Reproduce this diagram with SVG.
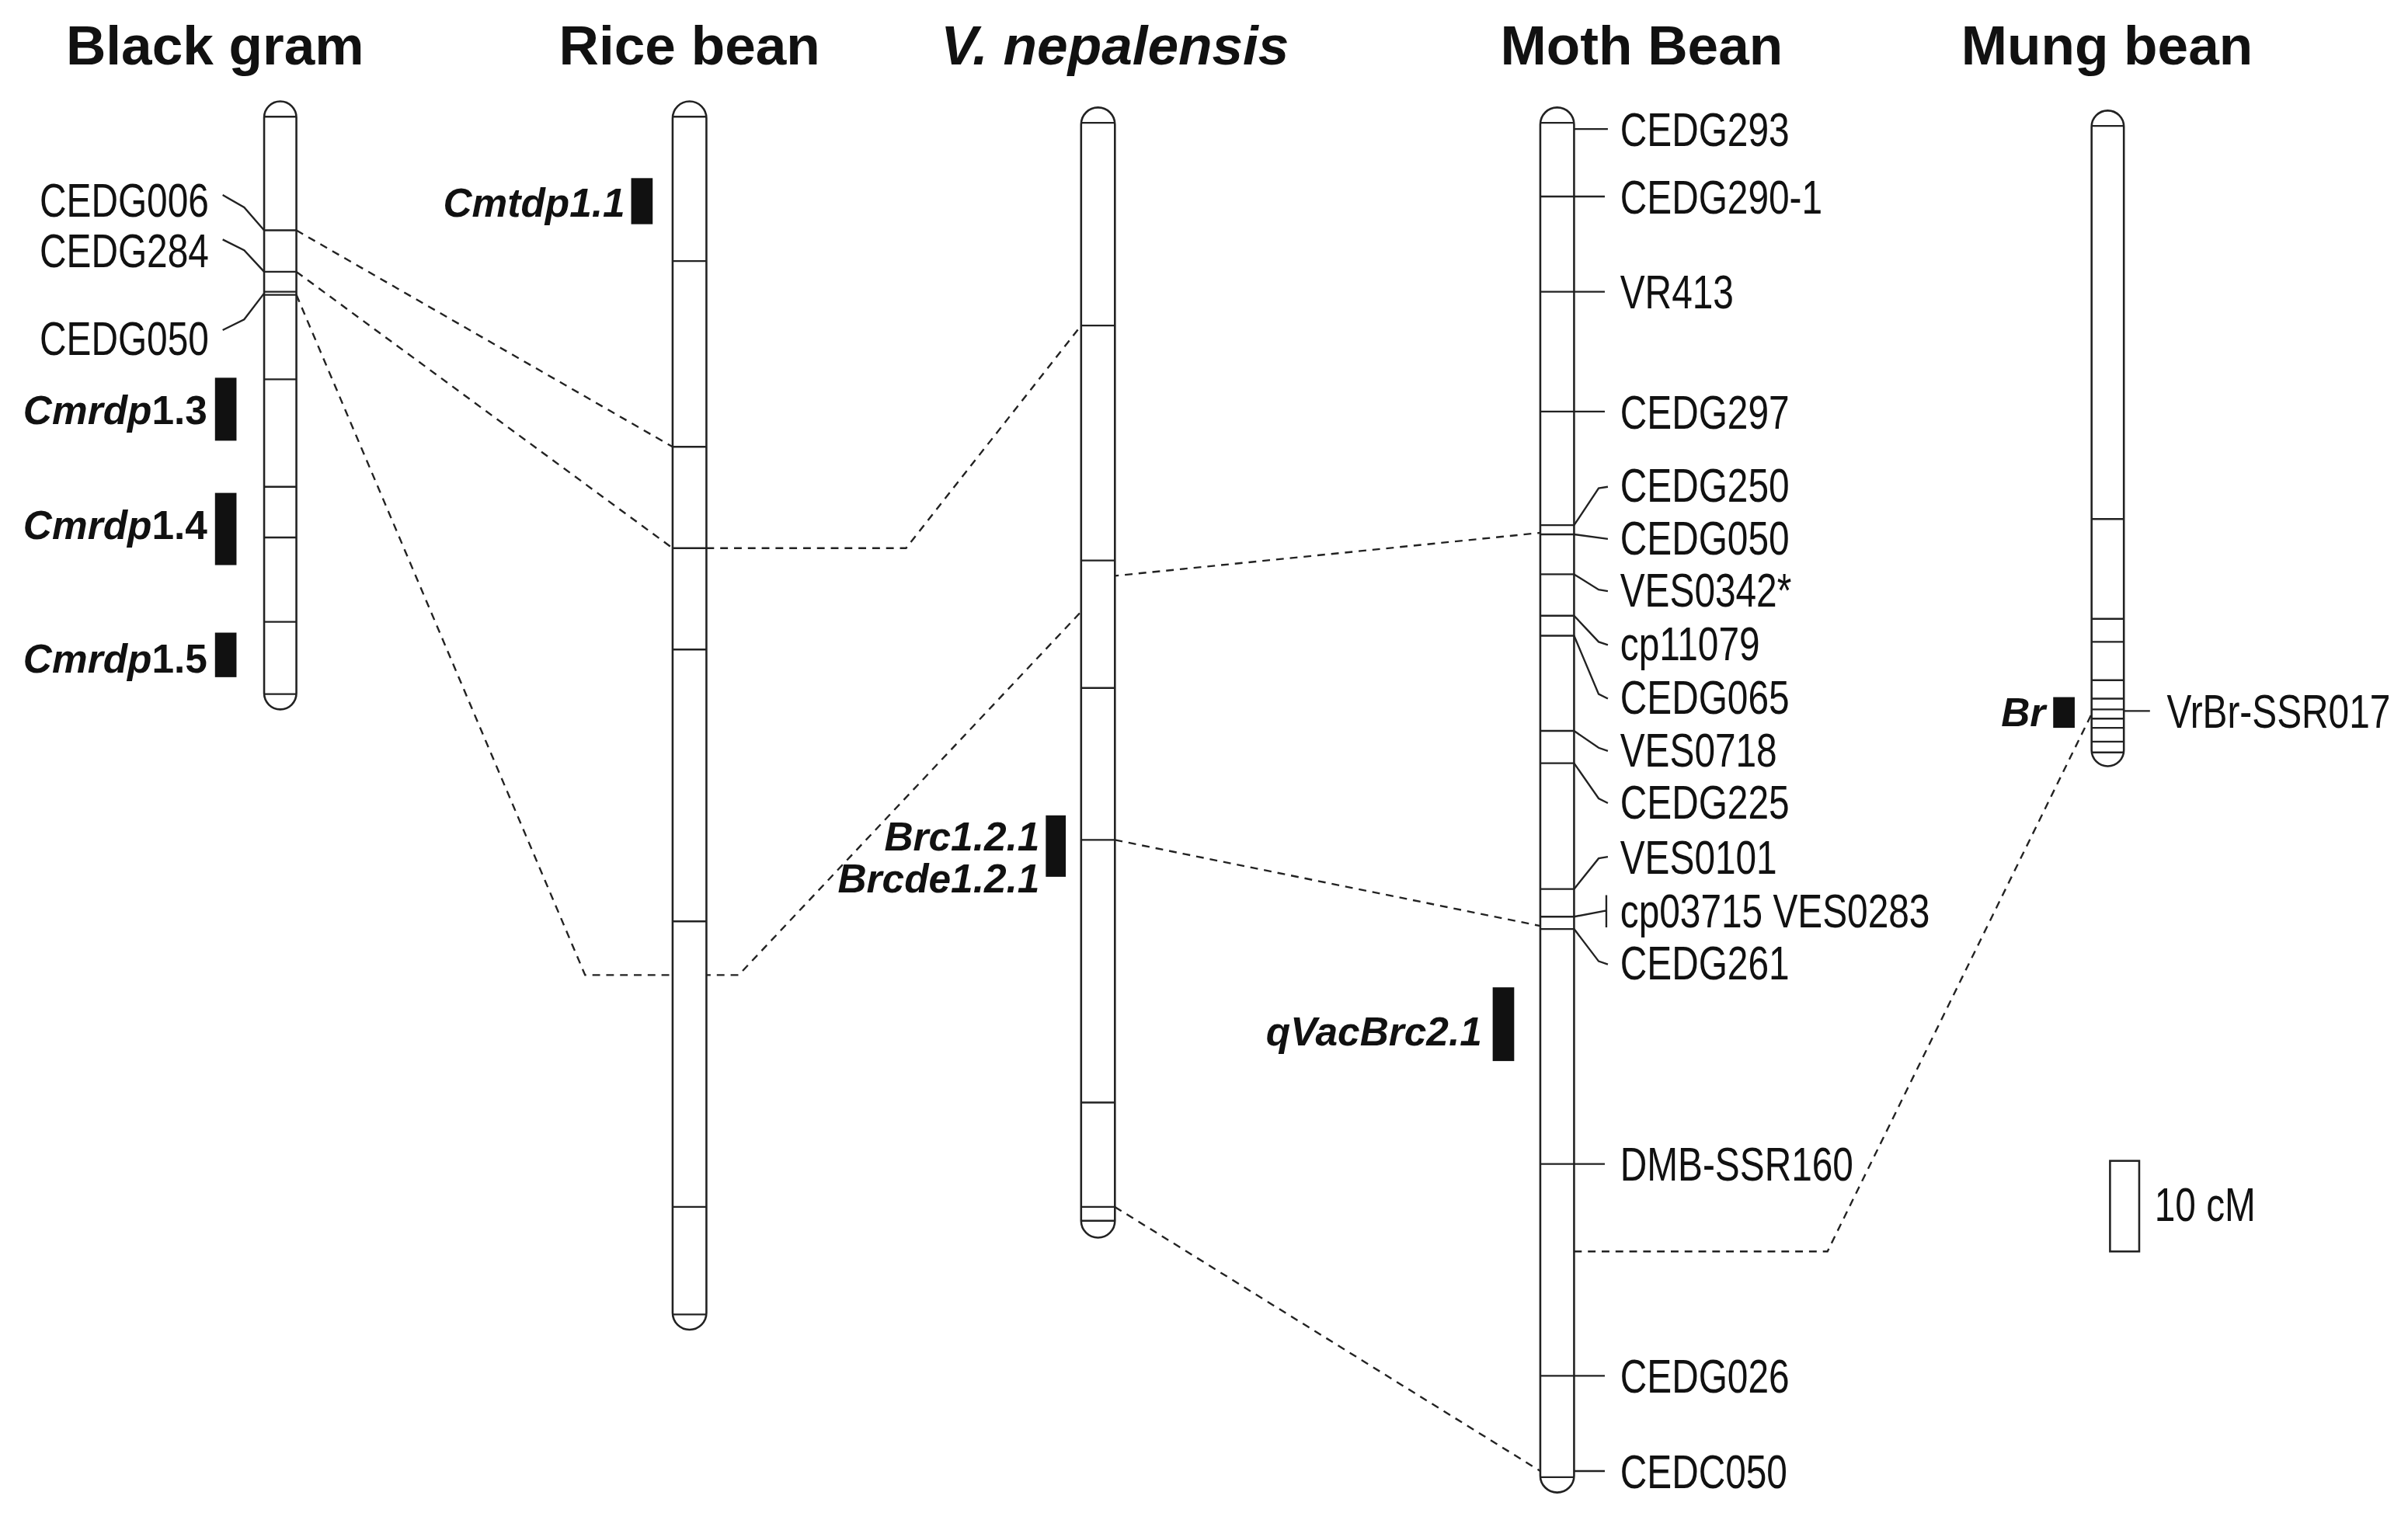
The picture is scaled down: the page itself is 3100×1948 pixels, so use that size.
<svg xmlns="http://www.w3.org/2000/svg" width="3100" height="1948" viewBox="0 0 3100 1948">
<style>
.chr{fill:#fff;stroke:#222;stroke-width:1.3}
.ln{stroke:#222;stroke-width:1.2;fill:none}
.dash{stroke:#222;stroke-width:1.2;fill:none;stroke-dasharray:5 4}
.t{font-family:"Liberation Sans",Arial,sans-serif;font-size:31px;fill:#111}
.ti{font-family:"Liberation Sans",Arial,sans-serif;font-size:36px;font-weight:bold;fill:#111;text-anchor:middle}
.q{font-family:"Liberation Sans",Arial,sans-serif;font-size:26px;font-weight:bold;font-style:italic;fill:#111;text-anchor:end}
.bar{fill:#111}
</style>
<rect width="3100" height="1948" fill="#fff"/>
<g transform="scale(1.977)">
<g id="titles">
<text class="ti" x="140" y="42">Black gram</text>
<text class="ti" x="449" y="42">Rice bean</text>
<text class="ti" x="726" y="42" font-style="italic">V. nepalensis</text>
<text class="ti" x="1069" y="42">Moth Bean</text>
<text class="ti" x="1372" y="42">Mung bean</text>
</g>
<g id="connectors">
<path class="dash" d="M193,150 L438,291"/>
<path class="dash" d="M193,177 L438,357"/>
<path class="dash" d="M193,192 L381,635 L481,635 L726,375 L1003,347"/>
<path class="dash" d="M460,357 L590,357 L704,212"/>
<path class="dash" d="M726,547 L1003,603"/>
<path class="dash" d="M726,786 L1003,958"/>
<path class="dash" d="M1025,815 L1190,815 L1362,465"/>
</g>
<g id="black-gram">
<rect class="chr" x="172" y="66" width="21" height="396" rx="10.5"/>
<path class="ln" d="M172,76H193M172,150H193M172,177H193M172,190H193M172,192H193M172,247H193M172,317H193M172,350H193M172,405H193M172,452H193"/>
<path class="ln" d="M145,127L159,135L172,150M145,156L159,163L172,177M145,215L159,208L172,191"/>
<g class="t" text-anchor="end" transform="translate(136,0) scale(0.78,1)">
<text x="0" y="141">CEDG006</text>
<text x="0" y="174">CEDG284</text>
<text x="0" y="231">CEDG050</text>
</g>
<rect class="bar" x="140" y="246" width="14" height="41"/>
<rect class="bar" x="140" y="321" width="14" height="47"/>
<rect class="bar" x="140" y="412" width="14" height="29"/>
<text class="q" x="135" y="276"><tspan>Cmrdp</tspan><tspan font-style="normal">1.3</tspan></text>
<text class="q" x="135" y="351"><tspan>Cmrdp</tspan><tspan font-style="normal">1.4</tspan></text>
<text class="q" x="135" y="438"><tspan>Cmrdp</tspan><tspan font-style="normal">1.5</tspan></text>
</g>
<g id="rice-bean">
<rect class="chr" x="438" y="66" width="22" height="800" rx="11"/>
<path class="ln" d="M438,76H460M438,170H460M438,291H460M438,357H460M438,423H460M438,600H460M438,786H460M438,856H460"/>
<rect class="bar" x="411" y="116" width="14" height="30"/>
<text class="q" x="407" y="141">Cmtdp1.1</text>
</g>
<g id="v-nepalensis">
<rect class="chr" x="704" y="70" width="22" height="736" rx="11"/>
<path class="ln" d="M704,80H726M704,212H726M704,365H726M704,448H726M704,547H726M704,718H726M704,786H726M704,795H726"/>
<rect class="bar" x="681" y="531" width="13" height="40"/>
<text class="q" x="677" y="554">Brc1.2.1</text>
<text class="q" x="677" y="581">Brcde1.2.1</text>
</g>
<g id="moth-bean">
<rect class="chr" x="1003" y="70" width="22" height="902" rx="11"/>
<path class="ln" d="M1003,80H1025M1003,128H1025M1003,190H1025M1003,268H1025M1003,342H1025M1003,348H1025M1003,374H1025M1003,401H1025M1003,414H1025M1003,476H1025M1003,497H1025M1003,579H1025M1003,597H1025M1003,605H1025M1003,758H1025M1003,896H1025M1003,962H1025"/>
<path class="ln" d="M1025,84H1047M1025,128H1045M1025,190H1045M1025,268H1045M1025,758H1045M1025,896H1045M1025,958H1045"/>
<path class="ln" d="M1025,342L1041,318L1047,317M1025,348L1047,351M1025,374L1041,384L1047,385M1025,401L1041,418L1047,420M1025,414L1041,452L1047,455M1025,476L1041,487L1047,489M1025,497L1041,520L1047,523M1025,579L1041,559L1047,558M1025,597L1046,593M1046,583V604M1025,605L1041,626L1047,628"/>
<g class="t" transform="translate(1055,0) scale(0.78,1)">
<text x="0" y="95">CEDG293</text>
<text x="0" y="139">CEDG290-1</text>
<text x="0" y="201">VR413</text>
<text x="0" y="279">CEDG297</text>
<text x="0" y="327">CEDG250</text>
<text x="0" y="361">CEDG050</text>
<text x="0" y="395">VES0342*</text>
<text x="0" y="430">cp11079</text>
<text x="0" y="465">CEDG065</text>
<text x="0" y="499">VES0718</text>
<text x="0" y="533">CEDG225</text>
<text x="0" y="569">VES0101</text>
<text x="0" y="604">cp03715 VES0283</text>
<text x="0" y="638">CEDG261</text>
<text x="0" y="769">DMB-SSR160</text>
<text x="0" y="907">CEDG026</text>
<text x="0" y="969">CEDC050</text>
</g>
<rect class="bar" x="972" y="643" width="14" height="48"/>
<text class="q" x="965" y="681">qVacBrc2.1</text>
</g>
<g id="mung-bean">
<rect class="chr" x="1362" y="72" width="21" height="427" rx="10.5"/>
<path class="ln" d="M1362,82H1383M1362,338H1383M1362,403H1383M1362,418H1383M1362,443H1383M1362,455H1383M1362,462H1383M1362,468H1383M1362,474H1383M1362,483H1383M1362,490H1383"/>
<path class="ln" d="M1383,463H1400"/>
<text class="t" transform="translate(1411,0) scale(0.78,1)" x="0" y="474">VrBr-SSR017</text>
<rect class="bar" x="1337" y="454" width="14" height="20"/>
<text class="q" x="1332" y="473">Br</text>
</g>
<g id="scale">
<rect class="chr" x="1374" y="756" width="19" height="59"/>
<text class="t" transform="translate(1403,0) scale(0.78,1)" x="0" y="795">10 cM</text>
</g>
</g>
</svg>
